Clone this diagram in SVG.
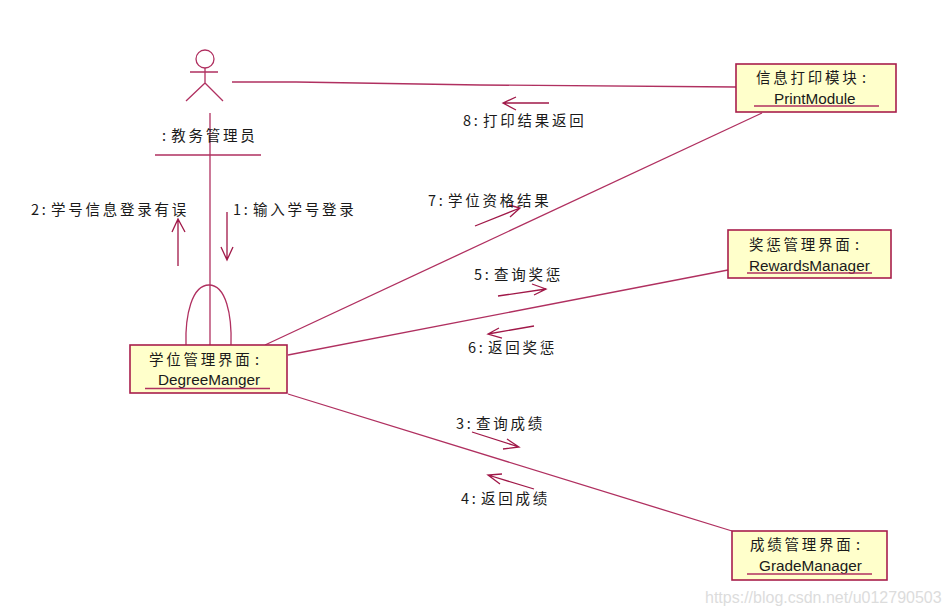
<svg xmlns="http://www.w3.org/2000/svg" width="949" height="615" viewBox="0 0 949 615">
<style>
.l{fill:none;stroke:#b03060;stroke-width:1.3}
.a{fill:none;stroke:#a01848;stroke-width:1.3}
.b{fill:#ffffcb;stroke:#a81e4c;stroke-width:1.6}
.t{font-family:"Noto Sans CJK SC","Liberation Sans",sans-serif;font-size:14.5px;fill:#1a1a1a;letter-spacing:2.75px;word-spacing:-3.5px}
.e{font-family:"Liberation Sans",sans-serif;font-size:15.3px;fill:#1a1a1a}
.w{font-family:"Liberation Sans",sans-serif;font-size:16px;fill:#dcdcdc}
</style>
<rect width="949" height="615" fill="#fff"/>
<g id="connectors">
<path class="l" d="M232 82L296 82L480 85L736 87"/>
<path class="l" d="M210 113V345"/>
<path class="l" d="M186 345C185 315 192 285 209 285C226 285 232 315 231 345"/>
<path class="l" d="M762 113L265 345"/>
<path class="l" d="M728 270L288 355"/>
<path class="l" d="M288 394L732 531"/>
</g>
<g id="messages">
<path class="a" d="M549 103H503M516 97L503 103L516 110"/>
<path class="a" d="M475 226L520 208M509 205L520 208L510 217"/>
<path class="a" d="M498 296L546 289M532 284L546 289L534 295"/>
<path class="a" d="M534 326L488 334M499 328L488 334L502 338"/>
<path class="a" d="M472 432L519 447M507 439L519 447L503 449"/>
<path class="a" d="M534 489L488 475M502 474L488 475L500 484"/>
<path class="a" d="M227 212V260M221 247L227 260L233 247"/>
<path class="a" d="M178 266V219M172 232L178 219L185 232"/>
</g>
<g id="actor">
<circle class="l" cx="205" cy="59" r="9"/>
<path class="l" d="M205 68V83M190 72H218M205 83L186 101M205 83L223 101M155 155H261"/>
<text class="t" x="162" y="141">: 教务管理员</text>
</g>
<g id="degree">
<rect class="b" x="130" y="345" width="157" height="48"/>
<text class="t" x="149" y="365">学位管理界面 :</text>
<text class="e" x="158" y="385">DegreeManger</text>
<path class="l" d="M145 388.500H270"/>
</g>
<g id="print">
<rect class="b" x="736" y="64" width="160" height="48"/>
<text class="t" x="756" y="83">信息打印模块 :</text>
<text class="e" x="774" y="104">PrintModule</text>
<path class="l" d="M754 106H879"/>
</g>
<g id="rewards">
<rect class="b" x="728" y="230" width="163" height="48"/>
<text class="t" x="749" y="250">奖惩管理界面 :</text>
<text class="e" x="749" y="271">RewardsManager</text>
<path class="l" d="M747 273H872"/>
</g>
<g id="grade">
<rect class="b" x="732" y="531" width="155" height="49"/>
<text class="t" x="750" y="550">成绩管理界面 :</text>
<text class="e" x="759" y="571">GradeManager</text>
<path class="l" d="M747 574H872"/>
</g>
<g id="labels">
<text class="t" x="463" y="126">8: 打印结果返回</text>
<text class="t" x="428" y="206">7: 学位资格结果</text>
<text class="t" x="474" y="280">5: 查询奖惩</text>
<text class="t" x="468" y="353">6: 返回奖惩</text>
<text class="t" x="456" y="429">3: 查询成绩</text>
<text class="t" x="461" y="504">4: 返回成绩</text>
<text class="t" x="233" y="215">1: 输入学号登录</text>
<text class="t" x="31" y="215">2: 学号信息登录有误</text>
</g>
<text class="w" x="705" y="603">https://blog.csdn.net/u012790503</text>
</svg>
